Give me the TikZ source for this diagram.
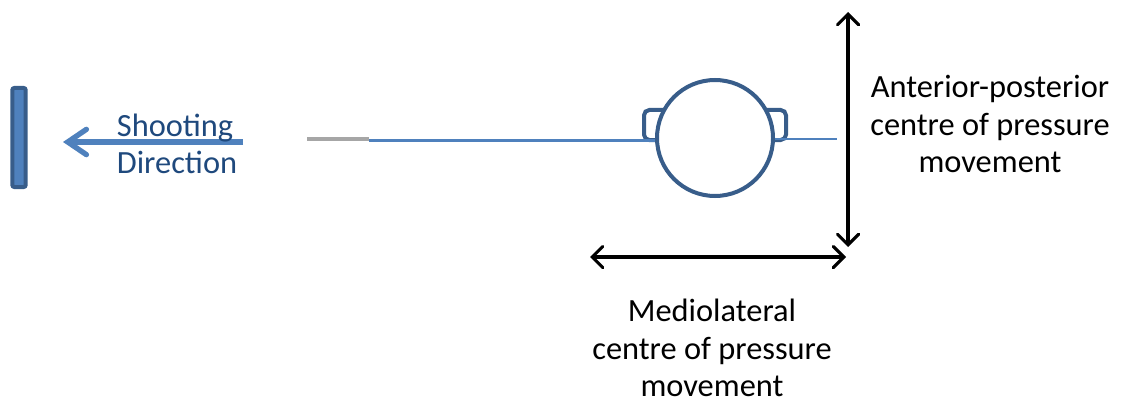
\documentclass[tikz,border=0pt]{standalone}
\usepackage{fontspec}
\setmainfont{Carlito}
\usetikzlibrary{arrows.meta}
\definecolor{accent}{RGB}{79,129,189}
\definecolor{darkacc}{RGB}{56,93,138}
\definecolor{txtblue}{RGB}{31,73,125}
\definecolor{greyl}{RGB}{166,166,166}
\tikzset{
  lbl/.style={font=\fontsize{24.3}{28}\selectfont, align=center, inner sep=0pt},
  blk/.style={line width=2.3pt, black, {Straight Barb[length=8pt,width=16pt,line cap=round]}-{Straight Barb[length=8pt,width=16pt,line cap=round]}},
}
\begin{document}
\begin{tikzpicture}[x=0.75pt,y=-0.75pt]
\useasboundingbox (0,0) rectangle (1121,403);
% target bar
\node[draw=darkacc, fill=accent, line width=3pt, rounded corners=1.5pt, minimum width=10pt, inner sep=0pt, minimum height=99*0.75pt] (bar) at (19,137.5) {};
% shooting arrow
\coordinate (sa) at (243,142);
\coordinate (sb) at (63,142);
\draw[accent, line width=4pt, -{Straight Barb[length=14pt,width=19pt,line cap=round]}] (sa) -- (sb);
\node[lbl, text=txtblue, align=left] (shoot) at (177,144) {Shooting\\Direction};
% grey + blue line
\coordinate (g1) at (307,139);
\coordinate (g2) at (369,139);
\draw[greyl, line width=3pt] (g1) -- (g2);
% handles
\draw[darkacc, line width=3pt, rounded corners=4pt, fill=white] (700,110) -- (644,110) -- (644,140) -- (700,140);
\draw[darkacc, line width=3pt, rounded corners=4pt, fill=white] (730,110) -- (786,110) -- (786,140) -- (730,140);
% circle
\node[circle, draw=darkacc, fill=white, line width=3pt, minimum size=116*0.75pt, inner sep=0pt] (c) at (715,138) {};
\coordinate (b1) at (369,140.5);
\draw[accent, line width=2.2pt] (b1) -- (c.west|-b1);
\coordinate (r2) at (837,139);
\draw[accent, line width=2.2pt] (c.east|-r2) -- (r2);
% arrows
\coordinate (vt) at (848,12);
\coordinate (vb) at (848,247);
\draw[blk] (vb) -- (vt);
\coordinate (hl) at (590,257);
\coordinate (hr) at (846,257);
\draw[blk] (hl) -- (hr);
\node[lbl] (ap) at (990,124) {Anterior-posterior\\centre of pressure\\movement};
\node[lbl] (ml) at (712,348) {Mediolateral\\centre of pressure\\movement};
\end{tikzpicture}
\end{document}
